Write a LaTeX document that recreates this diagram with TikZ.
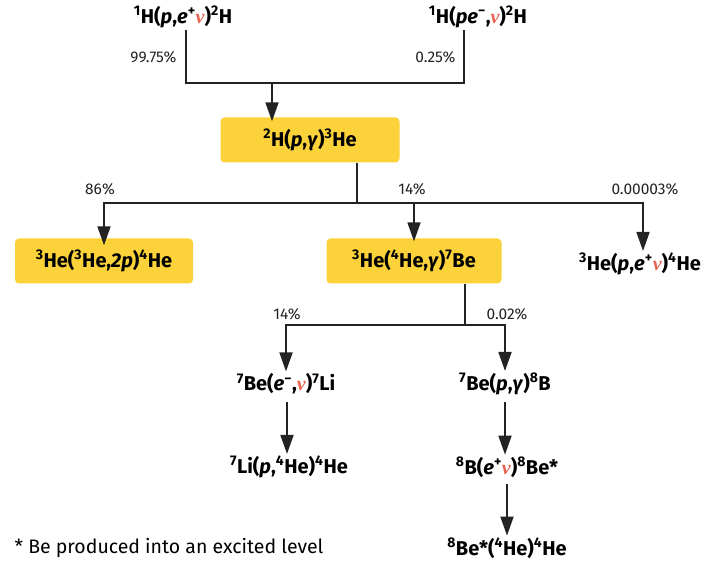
\documentclass[tikz,border=0pt]{standalone}
\usepackage{fontspec}
\setmainfont{Fira Sans}
\newfontfamily\nufont{Liberation Serif}
\usetikzlibrary{arrows.meta}
\definecolor{Amber}{RGB}{251, 210, 58}
\definecolor{Ink}{RGB}{35, 35, 35}
\definecolor{NuRed}{RGB}{232, 100, 80}
\newcommand{\neut}{\textcolor{NuRed}{\nufont\itshape ν}}
\newcommand{\up}[1]{\textsuperscript{#1}}

\begin{document}
\begin{tikzpicture}[x=1pt, y=-1pt,
    reac/.style={font=\fontsize{20}{24}\selectfont\bfseries, inner sep=2pt},
    boxed/.style={reac, fill=Amber, rounded corners=4pt, minimum height=45pt},
    pct/.style={font=\fontsize{15.5}{18}\selectfont, Ink},
    flow/.style={Ink, line width=1.8pt},
    arr/.style={flow, -{Triangle[length=19pt, width=13pt]}}]

\useasboundingbox (0,0) rectangle (715,561);

% Step 1: proton-proton and pep
\node[reac] (pp) at (183,17) {\up{1}H(\textit{p},\textit{e}\up{+}\neut)\up{2}H};
\node[reac] (pep) at (478,17) {\up{1}H(\textit{pe}\up{−},\neut)\up{2}H};
\node[boxed, minimum width=179pt] (dp) at (310,140) {\up{2}H(\textit{p},\textit{γ})\up{3}He};
\coordinate (j1) at (272,83);
\draw[flow] ([xshift=3pt]pp.south) |- (j1) -| ([xshift=-14pt]pep.south);
\draw[arr] (j1) -- ([yshift=-4pt]j1 |- dp.north);
\node[pct, anchor=east] (p9975) at (180,57) {99.75\%};
\node[pct, anchor=east] (p025) at (459,57) {0.25\%};

% Step 2: three branches from 3He
\node[boxed, minimum width=178pt] (hehe) at (104,261) {\up{3}He(\up{3}He,\textit{2p})\up{4}He};
\node[boxed, minimum width=175pt] (hebe) at (414,261) {\up{3}He(\up{4}He,\textit{γ})\up{7}Be};
\node[reac] (hep) at (640,264) {\up{3}He(\textit{p},\textit{e}\up{+}\neut)\up{4}He};
\coordinate (j2) at (357,203);
\draw[flow] (dp.south -| j2) -- (j2);
\draw[arr] (j2) -| ([yshift=-7pt]hehe.north);
\draw[arr] (j2) -| ([yshift=-3pt]hebe.north);
\draw[arr] (j2) -| ([xshift=3pt]hep.north);
\node[pct] (p86) at (100,189) {86\%};
\node[pct] (p14a) at (412,189) {14\%};
\node[pct] (p3e7) at (645,189) {0.00003\%};

% Step 3: 7Be branches
\node[reac] (beec) at (286,384) {\up{7}Be(\textit{e}\up{−},\neut)\up{7}Li};
\node[reac] (bepg) at (505,384) {\up{7}Be(\textit{p},\textit{γ})\up{8}B};
\coordinate (j3) at (465,325);
\draw[flow] (hebe.south -| j3) -- (j3);
\draw[arr] (j3) -| (beec.north);
\draw[arr] (j3) -| (bepg.north);
\node[pct] (p14b) at (287,314) {14\%};
\node[pct] (p002) at (507,314) {0.02\%};

% Step 4: end chains
\node[reac] (lip) at (289,467) {\up{7}Li(\textit{p},\up{4}He)\up{4}He};
\node[reac] (bdec) at (507,467) {\up{8}B(\textit{e}\up{+}\neut)\up{8}Be*};
\node[reac] (bealpha) at (507,548) {\up{8}Be*(\up{4}He)\up{4}He};
\draw[arr, shorten <=5pt] (beec.south -| 287,0) -- (lip.north -| 287,0);
\draw[arr, shorten <=5pt] (bepg.south) -- (bepg.south |- bdec.north);
\draw[arr, shorten <=5pt] (bdec.south) -- (bealpha.north);

% Footnote
\node[anchor=west, font=\fontsize{19.5}{22}\selectfont] (note) at (11,548) {* Be produced into an excited level};

\end{tikzpicture}
\end{document}
